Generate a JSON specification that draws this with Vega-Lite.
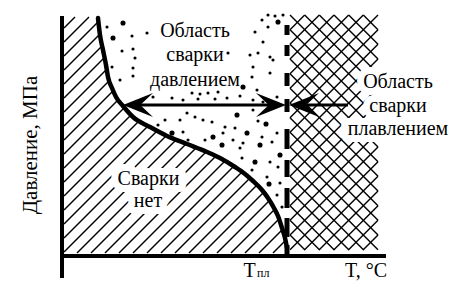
{
  "$schema": "https://vega.github.io/schema/vega-lite/v6.json",
  "width": 459,
  "height": 288,
  "padding": 0,
  "autosize": {"type": "none"},
  "background": "white",
  "config": {"view": {"stroke": null}, "font": "Liberation Serif", "text": {"font": "Liberation Serif"}},
  "datasets": {
    "hatch": [
      {"x": 2, "y": 228, "x2": 13, "y2": 239},
      {"x": 2, "y": 214, "x2": 27, "y2": 239},
      {"x": 2, "y": 200, "x2": 41, "y2": 239},
      {"x": 2, "y": 186, "x2": 55, "y2": 239},
      {"x": 2, "y": 172, "x2": 69, "y2": 239},
      {"x": 2, "y": 158, "x2": 83, "y2": 239},
      {"x": 2, "y": 144, "x2": 97, "y2": 239},
      {"x": 2, "y": 130, "x2": 111, "y2": 239},
      {"x": 2, "y": 116, "x2": 125, "y2": 239},
      {"x": 2, "y": 102, "x2": 139, "y2": 239},
      {"x": 2, "y": 88, "x2": 153, "y2": 239},
      {"x": 2, "y": 74, "x2": 167, "y2": 239},
      {"x": 2, "y": 60, "x2": 181, "y2": 239},
      {"x": 2, "y": 46, "x2": 195, "y2": 239},
      {"x": 2, "y": 32, "x2": 209, "y2": 239},
      {"x": 2, "y": 18, "x2": 223, "y2": 239},
      {"x": 2, "y": 4, "x2": 223, "y2": 225},
      {"x": 15, "y": 3, "x2": 223, "y2": 211},
      {"x": 29, "y": 3, "x2": 223, "y2": 197},
      {"x": 43, "y": 3, "x2": 223, "y2": 183},
      {"x": 57, "y": 3, "x2": 223, "y2": 169},
      {"x": 71, "y": 3, "x2": 223, "y2": 155},
      {"x": 85, "y": 3, "x2": 223, "y2": 141},
      {"x": 99, "y": 3, "x2": 223, "y2": 127},
      {"x": 113, "y": 3, "x2": 223, "y2": 113},
      {"x": 127, "y": 3, "x2": 223, "y2": 99},
      {"x": 141, "y": 3, "x2": 223, "y2": 85},
      {"x": 155, "y": 3, "x2": 223, "y2": 71},
      {"x": 169, "y": 3, "x2": 223, "y2": 57},
      {"x": 183, "y": 3, "x2": 223, "y2": 43},
      {"x": 197, "y": 3, "x2": 223, "y2": 29},
      {"x": 211, "y": 3, "x2": 223, "y2": 15}
    ],
    "crosshatch": [
      {"x": 228, "y": 226.3, "x2": 242.7, "y2": 241},
      {"x": 228, "y": 211.7, "x2": 257.3, "y2": 241},
      {"x": 228, "y": 197, "x2": 272, "y2": 241},
      {"x": 228, "y": 182.3, "x2": 286.7, "y2": 241},
      {"x": 228, "y": 167.7, "x2": 301.3, "y2": 241},
      {"x": 228, "y": 153, "x2": 316, "y2": 241},
      {"x": 228, "y": 138.3, "x2": 316, "y2": 226.3},
      {"x": 228, "y": 123.7, "x2": 316, "y2": 211.7},
      {"x": 228, "y": 109, "x2": 316, "y2": 197},
      {"x": 228, "y": 94.3, "x2": 316, "y2": 182.3},
      {"x": 228, "y": 79.7, "x2": 316, "y2": 167.7},
      {"x": 228, "y": 65, "x2": 316, "y2": 153},
      {"x": 228, "y": 50.3, "x2": 316, "y2": 138.3},
      {"x": 228, "y": 35.7, "x2": 316, "y2": 123.7},
      {"x": 228, "y": 21, "x2": 316, "y2": 109},
      {"x": 228, "y": 6.3, "x2": 316, "y2": 94.3},
      {"x": 242.3, "y": 6, "x2": 316, "y2": 79.7},
      {"x": 257, "y": 6, "x2": 316, "y2": 65},
      {"x": 271.7, "y": 6, "x2": 316, "y2": 50.3},
      {"x": 286.3, "y": 6, "x2": 316, "y2": 35.7},
      {"x": 301, "y": 6, "x2": 316, "y2": 21},
      {"x": 228, "y": 21, "x2": 243, "y2": 6},
      {"x": 228, "y": 35.7, "x2": 257.7, "y2": 6},
      {"x": 228, "y": 50.3, "x2": 272.3, "y2": 6},
      {"x": 228, "y": 65, "x2": 287, "y2": 6},
      {"x": 228, "y": 79.7, "x2": 301.7, "y2": 6},
      {"x": 228, "y": 94.3, "x2": 316, "y2": 6.3},
      {"x": 228, "y": 109, "x2": 316, "y2": 21},
      {"x": 228, "y": 123.7, "x2": 316, "y2": 35.7},
      {"x": 228, "y": 138.3, "x2": 316, "y2": 50.3},
      {"x": 228, "y": 153, "x2": 316, "y2": 65},
      {"x": 228, "y": 167.7, "x2": 316, "y2": 79.7},
      {"x": 228, "y": 182.3, "x2": 316, "y2": 94.3},
      {"x": 228, "y": 197, "x2": 316, "y2": 109},
      {"x": 228, "y": 211.7, "x2": 316, "y2": 123.7},
      {"x": 228, "y": 226.3, "x2": 316, "y2": 138.3},
      {"x": 228, "y": 241, "x2": 316, "y2": 153},
      {"x": 242.7, "y": 241, "x2": 316, "y2": 167.7},
      {"x": 257.3, "y": 241, "x2": 316, "y2": 182.3},
      {"x": 272, "y": 241, "x2": 316, "y2": 197},
      {"x": 286.7, "y": 241, "x2": 316, "y2": 211.7},
      {"x": 301.3, "y": 241, "x2": 316, "y2": 226.3}
    ],
    "curve": [
      {"x": 36, "y": 238}, {"x": 38, "y": 221}, {"x": 41, "y": 206}, {"x": 44, "y": 191},
      {"x": 46, "y": 179}, {"x": 50, "y": 168}, {"x": 54, "y": 159}, {"x": 61, "y": 150},
      {"x": 71, "y": 139}, {"x": 88, "y": 129}, {"x": 105, "y": 120}, {"x": 125, "y": 112},
      {"x": 145, "y": 104}, {"x": 158, "y": 98}, {"x": 173, "y": 89}, {"x": 183, "y": 82},
      {"x": 191, "y": 75}, {"x": 200, "y": 66}, {"x": 206, "y": 58}, {"x": 212, "y": 48},
      {"x": 216, "y": 40}, {"x": 220, "y": 28}, {"x": 223, "y": 18}, {"x": 225, "y": 8}
    ],
    "dots": [
      {"x": 61, "y": 233, "k": "L"}, {"x": 45, "y": 229, "k": "S"}, {"x": 51, "y": 218, "k": "L"},
      {"x": 70, "y": 220, "k": "S"}, {"x": 85, "y": 223, "k": "S"}, {"x": 60, "y": 205, "k": "S"},
      {"x": 71, "y": 207, "k": "S"}, {"x": 73, "y": 198, "k": "S"}, {"x": 50, "y": 189, "k": "S"},
      {"x": 71, "y": 188, "k": "S"}, {"x": 58, "y": 176, "k": "S"}, {"x": 71, "y": 180, "k": "S"},
      {"x": 91, "y": 159, "k": "S"}, {"x": 110, "y": 158, "k": "S"}, {"x": 121, "y": 156, "k": "S"},
      {"x": 130, "y": 163, "k": "S"}, {"x": 138, "y": 162, "k": "S"}, {"x": 146, "y": 163, "k": "S"},
      {"x": 156, "y": 164, "k": "S"}, {"x": 136, "y": 157, "k": "S"}, {"x": 165, "y": 158, "k": "S"},
      {"x": 153, "y": 157, "k": "S"}, {"x": 178, "y": 160, "k": "S"}, {"x": 200, "y": 236, "k": "S"},
      {"x": 216, "y": 234, "k": "L"}, {"x": 206, "y": 229, "k": "S"}, {"x": 193, "y": 224, "k": "S"},
      {"x": 201, "y": 214, "k": "S"}, {"x": 196, "y": 203, "k": "S"}, {"x": 166, "y": 203, "k": "S"},
      {"x": 188, "y": 201, "k": "S"}, {"x": 208, "y": 199, "k": "S"}, {"x": 191, "y": 189, "k": "S"},
      {"x": 190, "y": 179, "k": "S"}, {"x": 208, "y": 183, "k": "S"}, {"x": 181, "y": 169, "k": "L"},
      {"x": 195, "y": 166, "k": "S"}, {"x": 211, "y": 196, "k": "S"}, {"x": 215, "y": 159, "k": "S"},
      {"x": 191, "y": 156, "k": "S"}, {"x": 103, "y": 136, "k": "S"}, {"x": 118, "y": 136, "k": "S"},
      {"x": 133, "y": 139, "k": "S"}, {"x": 125, "y": 143, "k": "S"}, {"x": 141, "y": 136, "k": "S"},
      {"x": 150, "y": 134, "k": "S"}, {"x": 163, "y": 129, "k": "S"}, {"x": 175, "y": 141, "k": "L"},
      {"x": 191, "y": 146, "k": "S"}, {"x": 196, "y": 135, "k": "S"}, {"x": 204, "y": 132, "k": "L"},
      {"x": 215, "y": 123, "k": "S"}, {"x": 173, "y": 128, "k": "S"}, {"x": 185, "y": 123, "k": "L"},
      {"x": 200, "y": 119, "k": "S"}, {"x": 210, "y": 114, "k": "S"}, {"x": 151, "y": 119, "k": "L"},
      {"x": 143, "y": 116, "k": "S"}, {"x": 171, "y": 116, "k": "S"}, {"x": 160, "y": 111, "k": "L"},
      {"x": 178, "y": 108, "k": "S"}, {"x": 198, "y": 111, "k": "L"}, {"x": 218, "y": 101, "k": "L"},
      {"x": 180, "y": 98, "k": "S"}, {"x": 193, "y": 94, "k": "L"}, {"x": 208, "y": 94, "k": "S"},
      {"x": 216, "y": 89, "k": "S"}, {"x": 110, "y": 123, "k": "L"}, {"x": 121, "y": 124, "k": "S"},
      {"x": 126, "y": 116, "k": "S"}, {"x": 96, "y": 131, "k": "S"}, {"x": 205, "y": 79, "k": "S"},
      {"x": 207, "y": 72, "k": "L"}, {"x": 215, "y": 61, "k": "S"}, {"x": 220, "y": 49, "k": "S"},
      {"x": 190, "y": 86, "k": "S"}, {"x": 181, "y": 113, "k": "S"}, {"x": 201, "y": 154, "k": "S"},
      {"x": 218, "y": 73, "k": "S"}, {"x": 213, "y": 240, "k": "S"}, {"x": 221, "y": 241, "k": "S"},
      {"x": 206, "y": 241, "k": "S"}, {"x": 161, "y": 123, "k": "S"}
    ],
    "dashes": [
      {"x": 225, "y": 231, "x2": 225, "y2": 221},
      {"x": 225, "y": 211, "x2": 225, "y2": 200},
      {"x": 225, "y": 183, "x2": 225, "y2": 170},
      {"x": 225, "y": 157, "x2": 225, "y2": 144},
      {"x": 225, "y": 127, "x2": 225, "y2": 107},
      {"x": 225, "y": 96, "x2": 225, "y2": 79},
      {"x": 225, "y": 68, "x2": 225, "y2": 48},
      {"x": 225, "y": 38, "x2": 225, "y2": 19},
      {"x": 225, "y": 11, "x2": 225, "y2": 1}
    ],
    "shafts": [
      {"x": 70, "y": 151, "x2": 215, "y2": 151},
      {"x": 235, "y": 151, "x2": 286, "y2": 151}
    ],
    "heads": [
      {"x": 76, "y": 151, "dir": "left"},
      {"x": 209, "y": 151, "dir": "right"},
      {"x": 242, "y": 151, "dir": "left"}
    ],
    "axes": [
      {"x": 0, "y": 240, "x2": 0, "y2": -22},
      {"x": 0, "y": 0, "x2": 324, "y2": 0}
    ],
    "labels": [
      {"x": 133, "y": 219.5, "t": "Область", "halo": "no"},
      {"x": 133, "y": 195, "t": "сварки", "halo": "no"},
      {"x": 133, "y": 170.5, "t": "давлением", "halo": "no"},
      {"x": 336, "y": 168, "t": "Область", "halo": "yes"},
      {"x": 336, "y": 144, "t": "сварки", "halo": "yes"},
      {"x": 336, "y": 121, "t": "плавлением", "halo": "yes"},
      {"x": 86.5, "y": 71, "t": "Сварки", "halo": "yes"},
      {"x": 86, "y": 49, "t": "нет", "halo": "yes"},
      {"x": 304, "y": -21, "t": "T, °C", "halo": "no"},
      {"x": 187.5, "y": -21, "t": "T", "halo": "no"}
    ]
  },
  "encoding": {
    "x": {"field": "x", "type": "quantitative", "scale": {"domain": [-62, 397], "nice": false, "zero": false}, "axis": null},
    "y": {"field": "y", "type": "quantitative", "scale": {"domain": [-32, 256], "nice": false, "zero": false}, "axis": null}
  },
  "layer": [
    {
      "data": {"name": "hatch"},
      "mark": {"type": "rule", "color": "black", "strokeWidth": 1.5},
      "encoding": {"x2": {"field": "x2"}, "y2": {"field": "y2"}}
    },
    {
      "data": {"name": "curve"},
      "mark": {"type": "area", "color": "white", "interpolate": "monotone", "opacity": 1},
      "encoding": {"y2": {"datum": 243}}
    },
    {
      "data": {"name": "crosshatch"},
      "mark": {"type": "rule", "color": "black", "strokeWidth": 1.4},
      "encoding": {"x2": {"field": "x2"}, "y2": {"field": "y2"}}
    },
    {
      "data": {"name": "dots"},
      "mark": {"type": "point", "shape": "circle", "filled": true, "color": "black", "opacity": 1},
      "encoding": {
        "size": {"field": "k", "type": "nominal", "scale": {"domain": ["S", "L"], "range": [10, 26]}, "legend": null}
      }
    },
    {
      "data": {"name": "labels"},
      "transform": [{"filter": "datum.halo == 'yes'"}],
      "mark": {"type": "text", "font": "Liberation Serif", "fontSize": 20, "align": "center", "baseline": "alphabetic", "fill": "white", "stroke": "white", "strokeWidth": 14, "strokeJoin": "round"},
      "encoding": {"text": {"field": "t"}}
    },
    {
      "data": {"name": "curve"},
      "mark": {"type": "line", "color": "black", "strokeWidth": 4.5, "interpolate": "monotone", "strokeCap": "round"}
    },
    {
      "data": {"name": "dashes"},
      "mark": {"type": "rule", "color": "black", "strokeWidth": 5, "strokeCap": "butt"},
      "encoding": {"x2": {"field": "x2"}, "y2": {"field": "y2"}}
    },
    {
      "data": {"name": "shafts"},
      "mark": {"type": "rule", "color": "black", "strokeWidth": 3},
      "encoding": {"x2": {"field": "x2"}, "y2": {"field": "y2"}}
    },
    {
      "data": {"name": "heads"},
      "mark": {"type": "point", "filled": true, "color": "black", "opacity": 1, "size": 900, "strokeWidth": 0},
      "encoding": {
        "shape": {
          "field": "dir", "type": "nominal", "legend": null,
          "scale": {"domain": ["left", "right"], "range": ["M-1,0L1,-0.8L0.15,0L1,0.8Z", "M1,0L-1,-0.8L-0.15,0L-1,0.8Z"]}
        }
      }
    },
    {
      "data": {"name": "axes"},
      "mark": {"type": "rule", "color": "black", "strokeWidth": 4, "strokeCap": "butt"},
      "encoding": {"x2": {"field": "x2"}, "y2": {"field": "y2"}}
    },
    {
      "data": {"name": "labels"},
      "mark": {"type": "text", "font": "Liberation Serif", "fontSize": 20, "align": "center", "baseline": "alphabetic", "color": "black"},
      "encoding": {"text": {"field": "t"}}
    },
    {
      "data": {"values": [{"x": 195, "y": -21, "t": "пл"}]},
      "mark": {"type": "text", "font": "Liberation Serif", "fontSize": 12, "align": "left", "baseline": "alphabetic", "color": "black"},
      "encoding": {"text": {"field": "t"}}
    },
    {
      "data": {"values": [{"x": -31, "y": 111, "t": "Давление, МПа"}]},
      "mark": {"type": "text", "font": "Liberation Serif", "fontSize": 21, "angle": 270, "align": "center", "baseline": "middle", "color": "black"},
      "encoding": {"text": {"field": "t"}}
    }
  ]
}
